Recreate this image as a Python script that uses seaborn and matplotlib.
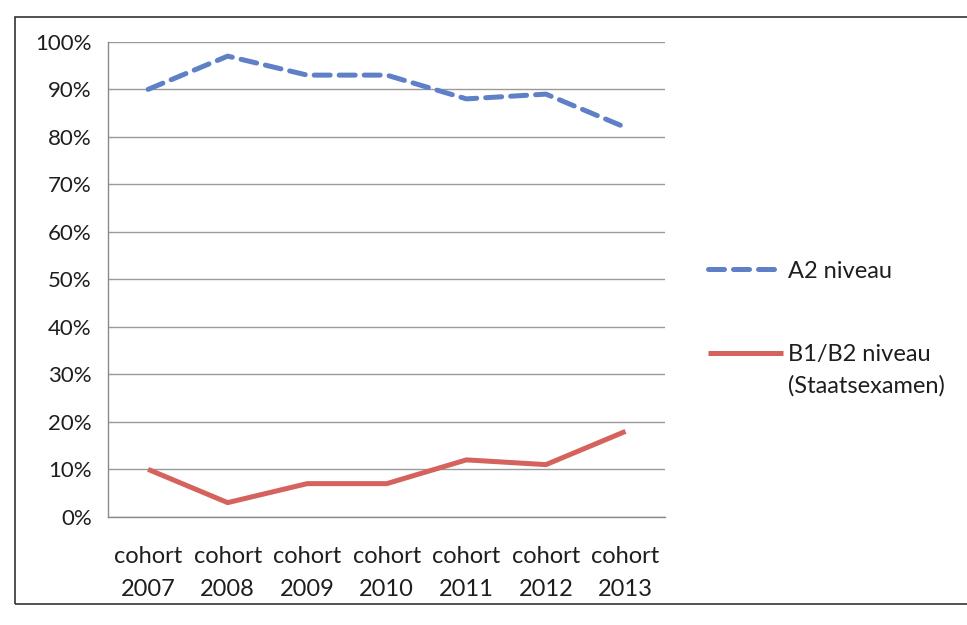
import pandas as pd
import matplotlib
matplotlib.use("Agg")
import matplotlib.pyplot as plt
from matplotlib.patches import Rectangle
from matplotlib.ticker import PercentFormatter, FixedLocator
import seaborn as sns

# waarden
cohorts = ["cohort\n2007", "cohort\n2008", "cohort\n2009", "cohort\n2010",
           "cohort\n2011", "cohort\n2012", "cohort\n2013"]
a2_niveau = [90, 97, 93, 93, 88, 89, 82]
b1b2_niveau = [10, 3, 7, 7, 12, 11, 18]
series_names = ["A2 niveau", "B1/B2 niveau"]

df = pd.DataFrame({
    "cohort": cohorts * 2,
    "pos": list(range(len(cohorts))) * 2,
    "waarde": a2_niveau + b1b2_niveau,
    "reeks": [series_names[0]] * len(cohorts) + [series_names[1]] * len(cohorts),
})

sns.set_style("white")
plt.rcParams['font.family'] = ['Lato', 'DejaVu Sans']

fig = plt.figure(figsize=(9.67, 6.25), dpi=100)
ax = fig.add_axes([0.112, 0.173, 0.576, 0.760])

palette = {"A2 niveau": "#5f80c6", "B1/B2 niveau": "#d5625c"}
dashes = {"A2 niveau": (3.2, 1.8), "B1/B2 niveau": ""}
sns.lineplot(data=df, x="pos", y="waarde", hue="reeks", style="reeks",
             palette=palette, dashes=dashes, linewidth=3.6, ax=ax, legend=True)
for ln in ax.get_lines():
    ln.set_dash_capstyle("round")
    ln.set_solid_capstyle("butt")

ax.set_ylim(0, 100)
ax.set_xlim(-0.5, len(cohorts) - 0.5)
ax.yaxis.set_major_locator(FixedLocator(range(0, 101, 10)))
ax.yaxis.set_major_formatter(PercentFormatter(decimals=0))
ax.yaxis.grid(True, color="#9a9a9a", linewidth=1.0)
ax.xaxis.grid(False)

# categorie-labels tussen de tickmarks, zoals in Excel
ax.set_xticks([i - 0.5 for i in range(len(cohorts) + 1)])
ax.set_xticklabels([])
ax.set_xticks(range(len(cohorts)), minor=True)
ax.set_xticklabels(cohorts, minor=True, fontsize=17, color="#1e1e1e", linespacing=1.7)
ax.tick_params(axis="x", which="minor", length=0, pad=21)
ax.tick_params(axis="x", which="major", length=6, width=1, color="#8a8a8a", direction="out")
ax.tick_params(axis="y", length=6, width=1, color="#8a8a8a", direction="out", labelsize=16,
               labelcolor="#1e1e1e", pad=6)
ax.set_xlabel("")
ax.set_ylabel("")

for side in ["top", "right"]:
    ax.spines[side].set_visible(False)
ax.spines["left"].set_color("#8a8a8a")
ax.spines["bottom"].set_color("#8a8a8a")
ax.spines["left"].set_linewidth(1)
ax.spines["bottom"].set_linewidth(1)

handles, labels = ax.get_legend_handles_labels()
ax.legend_.remove()
leg = fig.legend(handles, labels, loc="upper left", bbox_to_anchor=(0.722, 0.598),
                 frameon=False, fontsize=17, handlelength=3.2, handletextpad=0.2,
                 labelspacing=2.65, borderaxespad=0)
for t in leg.get_texts():
    t.set_color("#1e1e1e")

fig.canvas.draw()
bb = leg.get_texts()[1].get_window_extent().transformed(fig.transFigure.inverted())
fig.text(bb.x0, bb.y0 - 0.016, "(Staatsexamen)", fontsize=17, color="#1e1e1e",
         va="top", ha="left")

# kader rond de grafiek
fig.patches.append(Rectangle((15 / 967, 1 - 604 / 625), 1.0, (604 - 17) / 625,
                             transform=fig.transFigure, fill=False,
                             edgecolor="#333333", linewidth=1.2))

fig.savefig("out.png", dpi=100)
